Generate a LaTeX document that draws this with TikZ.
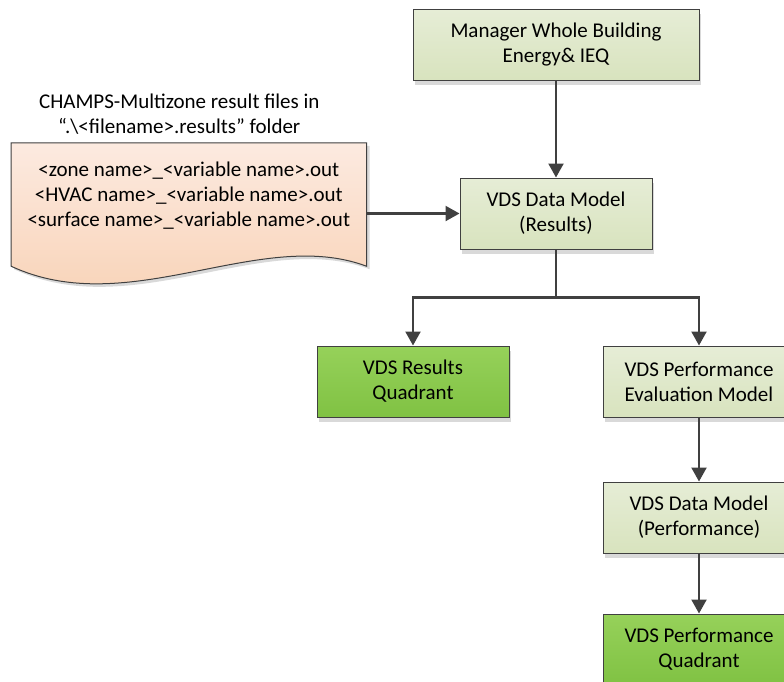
\documentclass[tikz,border=0pt]{standalone}
\usepackage{fontspec}
\setmainfont{Carlito}
\usetikzlibrary{arrows.meta,positioning,calc,shadows,backgrounds}
\definecolor{vdsline}{HTML}{404040}
\definecolor{vdssage}{HTML}{D8E3BE}
\definecolor{vdssagetop}{HTML}{E6EDD6}
\definecolor{vdsgreen}{HTML}{80C243}
\definecolor{vdsgreentop}{HTML}{96D15A}
\definecolor{vdspeach}{HTML}{F8D0B2}
\definecolor{vdspeachtop}{HTML}{FCEAE0}

\begin{document}
\begin{tikzpicture}[x=1pt,y=-1pt, every node/.style={font=\fontsize{21}{25}\selectfont,align=center}]
\tikzset{model/.style={draw=vdsline,line width=1pt,top color=vdssagetop,bottom color=vdssage,minimum width=192pt,minimum height=71pt,inner sep=2pt,drop shadow={shadow xshift=2pt,shadow yshift=-5pt,fill=black,opacity=.15}},
  quad/.style={model,top color=vdsgreentop,bottom color=vdsgreen},
  link/.style={draw=vdsline,line width=2.2pt,-{Triangle[length=14pt,width=15pt]}}}
\useasboundingbox (0,0) rectangle (784,681);
\clip (0,0) rectangle (784,681);
\node[model,minimum width=286pt] (manager) at (556,44.5) {Manager Whole Building\\Energy\& IEQ};
\node[model,below=97pt of manager] (results) {VDS Data Model\\(Results)};
\node[quad,below=96pt of results,xshift=-143pt] (resquad) {VDS Results\\Quadrant};
\node[model,below=96pt of results,xshift=143pt] (evalm) {VDS Performance\\Evaluation Model};
\node[model,below=64pt of evalm] (perfdata) {VDS Data Model\\(Performance)};
\node[quad,below=60pt of perfdata] (perfquad) {VDS Performance\\Quadrant};
\node[minimum width=355pt,minimum height=106pt,inner sep=0pt,left=93pt of results,yshift=17.5pt] (files) {<zone name>\_<variable name>.out\\<HVAC name>\_<variable name>.out\\<surface name>\_<variable name>.out};
\node[above=5pt of files,xshift=-9.5pt] (title) {CHAMPS-Multizone result files in\\“.\textbackslash<filename>.results” folder};
% result files document
\begin{scope}[on background layer]
\fill[black!15,transform canvas={shift={(3pt,-3pt)}}] (files.north west) -- (files.north east) -- ($(files.south east)+(0,17)$) .. controls ($(files.south east)+(-107,-23)$) and ($(files.south west)+(118,72)$) .. ($(files.south west)+(0,17)$) -- cycle;
\draw[vdsline,line width=1pt,top color=vdspeachtop,bottom color=vdspeach] (files.north west) -- (files.north east) -- ($(files.south east)+(0,17)$) .. controls ($(files.south east)+(-107,-23)$) and ($(files.south west)+(118,72)$) .. ($(files.south west)+(0,17)$) -- cycle;
\end{scope}
\coordinate[below=48pt of results.south] (fork);
\draw[link] (manager) -- (results);
\draw[link] (files.east |- results) -- (results.west);
\draw[vdsline,line width=2.2pt] (results) -- (fork);
\draw[link] (fork) -| (resquad);
\draw[link] (fork) -| (evalm);
\draw[link] (evalm) -- (perfdata);
\draw[link] (perfdata) -- (perfquad);
\end{tikzpicture}
\end{document}
